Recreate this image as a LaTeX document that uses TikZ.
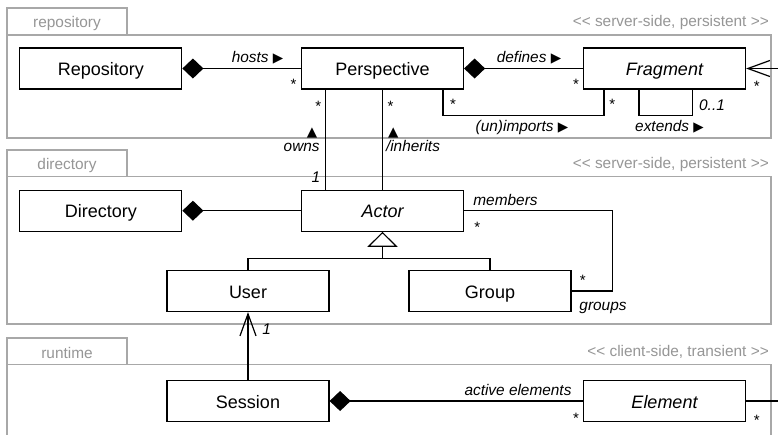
\documentclass[tikz,border=0pt]{standalone}
\usepackage{fontspec}
\setmainfont{Liberation Sans}[Ligatures=TeXOff]
\newfontfamily\symfont{DejaVu Sans}
\usetikzlibrary{arrows.meta}
\definecolor{pkgline}{RGB}{168,168,168}
\definecolor{pkgtext}{RGB}{150,150,150}
\newcommand{\rtri}{{\symfont\fontsize{13.5}{14}\selectfont ▶}}
\newcommand{\utri}{{\symfont\fontsize{13.5}{14}\selectfont ▲}}

\tikzset{
  cls/.style={draw, line width=1.2pt, minimum width=162pt, minimum height=41pt,
    inner sep=0pt, text height=14.5pt, text depth=0pt, font=\fontsize{18}{20}\selectfont},
  link/.style={line width=1.2pt},
  lbl/.style={font=\fontsize{15.4}{17}\selectfont\itshape, inner sep=0pt, anchor=base},
  mult/.style={font=\fontsize{15}{17}\selectfont, inner sep=0pt, anchor=base},
  pkg/.style={draw=pkgline, line width=1.4pt},
  pkgname/.style={text=pkgtext, font=\fontsize{15.4}{17}\selectfont, inner sep=0pt, anchor=base},
  stereo/.style={text=pkgtext, font=\fontsize{15.4}{17}\selectfont, inner sep=0pt, anchor=base east},
  compose/.style={link, -{Diamond[length=21pt,width=20pt]}},
  inherit/.style={link, -{Triangle[open,fill=white,length=15pt,width=30pt]}},
  navigate/.style={link, -{Straight Barb[length=22pt,width=16pt]}},
}

\begin{document}
\begin{tikzpicture}[x=1pt,y=-1pt]
\clip (0,0) rectangle (778,434);
\fill[white] (0,0) rectangle (778,434);

% ---------- packages ----------
\draw[pkg] (7,35) rectangle (771,138);
\draw[pkg] (7,35) |- (127,8) -- (127,35);
\node[pkgname] (pkgrepo) at (67,27.5) {repository};
\node[stereo] (strepo) at (769,26.7) {<< server-side, persistent >>};

\draw[pkg] (7,176.5) rectangle (771,324);
\draw[pkg] (7,176.5) |- (127,150) -- (127,176.5);
\node[pkgname] (pkgdir) at (67,169.3) {directory};
\node[stereo] (stdir) at (769,168.3) {<< server-side, persistent >>};

\draw[pkg] (7,450) |- (771,364.5) -- (771,450);
\draw[pkg] (7,364.5) |- (127,338) -- (127,364.5);
\node[pkgname] (pkgrun) at (67,358.3) {runtime};
\node[stereo] (strun) at (769,356.7) {<< client-side, transient >>};

% ---------- classes ----------
\node[cls] (Repository)  at (100.8,68.5) {Repository};
\node[cls] (Perspective) at (382.5,68.5) {Perspective};
\node[cls] (Fragment)    at (664.5,68.5) {\itshape Fragment};
\node[cls] (Directory)   at (100.8,210.7) {Directory};
\node[cls] (Actor)       at (382.5,210.7) {\itshape Actor};
\node[cls] (User)        at (248,291) {User};
\node[cls] (Group)       at (490,291) {Group};
\node[cls] (Session)     at (248,401) {Session};
\node[cls] (Element)     at (664.5,401) {\itshape Element};

% ---------- free ends leaving the frame ----------
\coordinate (fragout) at (800,68.5);
\coordinate (elemout) at (800,401);

% ---------- repository associations ----------
\draw[compose] (Perspective) -- (Repository);
\node[lbl] (hosts) at (257.5,62.3) {hosts \rtri};
\node[mult] (mHosts) at (293.5,89) {*};

\draw[compose] (Fragment) -- (Perspective);
\node[lbl] (defines) at (529,62.3) {defines \rtri};
\node[mult] (mDefines) at (576,89) {*};

\draw[navigate] (fragout) -- (Fragment.east);
\node[mult] (mFragOut) at (756.7,91) {*};

\draw[link] ([xshift=60.5pt]Perspective.south) -- ++(0,26) -| ([xshift=-60.5pt]Fragment.south);
\node[mult] (mImpA) at (453,109) {*};
\node[mult] (mImpB) at (612.3,109) {*};
\node[lbl] (unimports) at (522,131.7) {(un)imports \rtri};

\draw[link] ([xshift=-25.5pt]Fragment.south) -- ++(0,26) -| ([xshift=28pt]Fragment.south);
\node[lbl] (zeroone) at (712,110) {0..1};
\node[lbl] (extends) at (669.5,131.7) {extends \rtri};

% ---------- perspective / actor ----------
\draw[link] ([xshift=-57pt]Perspective.south) -- ([xshift=-57pt]Actor.north);
\node[mult] (mOwns) at (318.3,111.5) {*};
\node[inner sep=0pt] (ownsTri) at (312,132.5) {\utri};
\node[lbl] (owns) at (301.7,151) {owns};
\node[lbl] (oneOwns) at (316,182.7) {1};

\draw[link] (Perspective.south) -- (Actor.north);
\node[mult] (mInh) at (390.5,111.5) {*};
\node[inner sep=0pt] (inhTri) at (393.3,132.5) {\utri};
\node[lbl] (inherits) at (413,151) {/inherits};

% ---------- directory ----------
\draw[compose] (Actor) -- (Directory);

\coordinate (join) at ([yshift=-27pt]Actor.south);
\draw[link] (User.north) |- (join) -| (Group.north);
\draw[inherit] (join) -- (Actor.south);

\draw[link] (Actor.east) -- ++(148,0) |- (Group.east);
\node[lbl] (members) at (505.5,205) {members};
\node[mult] (mMembers) at (477.3,232.3) {*};
\node[mult] (mGroups) at (582.7,285.7) {*};
\node[lbl] (groups) at (603,310) {groups};

% ---------- runtime ----------
\draw[navigate] (Session.north) -- (User.south);
\node[lbl] (oneUser) at (266.7,334) {1};

\draw[compose] (Element) -- (Session);
\node[lbl] (active) at (518,395) {active elements};
\node[mult] (mActive) at (576,423.3) {*};

\draw[link] (Element.east) -- (elemout);
\node[mult] (mElemOut) at (756.7,425) {*};
\end{tikzpicture}
\end{document}
